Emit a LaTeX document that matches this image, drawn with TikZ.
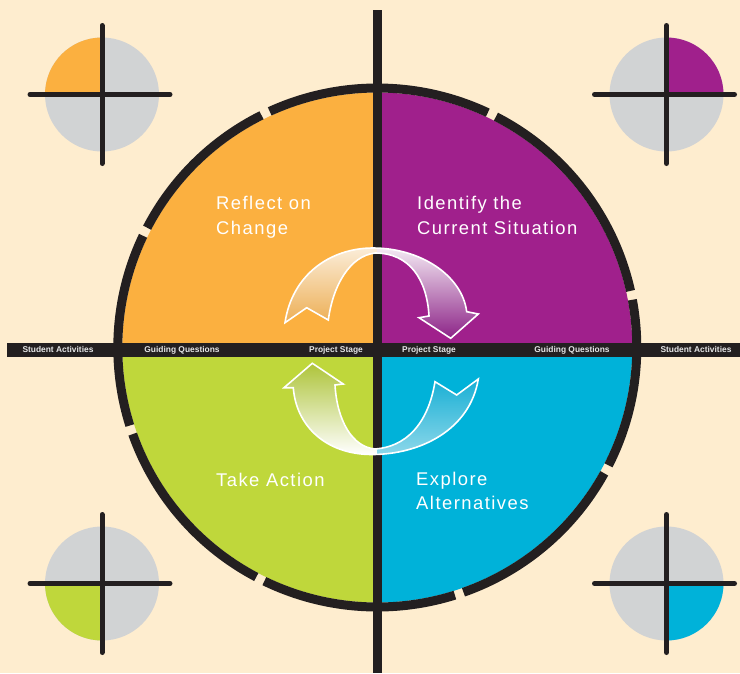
\documentclass[tikz,border=0pt]{standalone}
\usepackage{fontspec}
\newfontfamily\labelfont{Liberation Sans}[LetterSpace=8]
\newfontfamily\bandfont{Liberation Sans}
\definecolor{bgcream}{HTML}{FEEDCF}
\definecolor{ink}{HTML}{231F20}
\definecolor{qOrange}{HTML}{FBB040}
\definecolor{qPurple}{HTML}{A0208C}
\definecolor{qGreen}{HTML}{BFD73B}
\definecolor{qCyan}{HTML}{00B2D9}
\definecolor{iconGrey}{HTML}{D1D3D4}
\definecolor{bandText}{HTML}{E6E7E8}
\definecolor{arrOrange}{HTML}{EAA23A}
\definecolor{arrPurple}{HTML}{8C2387}
\definecolor{arrGreen}{HTML}{AEC43A}
\definecolor{arrCyan}{HTML}{00A7D0}
\begin{document}
\begin{tikzpicture}[x=1pt,y=-1pt,
  crossline/.style={ink,line width=5pt,line cap=round},
  ringseg/.style={ink,line width=9pt},
  stagelabel/.style={text=white,font=\labelfont\fontsize{18.4}{20}\selectfont,anchor=base west,inner sep=0pt},
  bandlabel/.style={text=bandText,font=\bandfont\bfseries\fontsize{8.4}{10}\selectfont,anchor=base,inner sep=0pt},
  arrowrim/.style={draw=white,line width=1.6pt,line join=miter}]

% page
\fill[bgcream] (0,0) rectangle (740,673);
\useasboundingbox (0,0) rectangle (740,673);

% corner icons: grey disc, one coloured quarter, cross
\foreach \cx/\cy/\col/\sa in {102/94.5/qOrange/90, 666.5/94.5/qPurple/0, 102/583.5/qGreen/180, 666.5/583.5/qCyan/270}{
  \fill[iconGrey] (\cx,\cy) circle (57);
  \fill[\col] (\cx,\cy) -- ++(-\sa:57) arc[start angle=-\sa, end angle=-\sa-90, radius=57] -- cycle;
  \draw[crossline] (\cx-72,\cy) -- (\cx+68,\cy);
  \draw[crossline] (\cx,\cy-69) -- (\cx,\cy+69);
}

% main wheel
\coordinate (c) at (377.3,347.5);
\begin{scope}[shift={(c)},yscale=-1]
  \fill[qPurple] (0,0) -- (0:255) arc[start angle=0,end angle=90,radius=255] -- cycle;
  \fill[qOrange] (0,0) -- (90:255) arc[start angle=90,end angle=180,radius=255] -- cycle;
  \fill[qGreen] (0,0) -- (180:255) arc[start angle=180,end angle=270,radius=255] -- cycle;
  \fill[qCyan] (0,0) -- (270:255) arc[start angle=270,end angle=360,radius=255] -- cycle;
  % rim, broken into segments
  \foreach \a/\b in {12.6/62.8, 64.8/114.5, 116.5/152.5, 154.5/197.5, 199.5/242.2, 244.2/287.4, 289.4/331, 333/370.6}
    \draw[ringseg] (\a:259.5) arc[start angle=\a,end angle=\b,radius=259.5];
\end{scope}

% axes
\fill[ink] (373,10) rectangle (381.6,673);
\fill[ink] (7,343) rectangle (740,357);

% band labels
\node[bandlabel] (saL) at (58,352) {Student Activities};
\node[bandlabel] (gqL) at (182,352) {Guiding Questions};
\node[bandlabel] (psL) at (336,352) {Project Stage};
\node[bandlabel] (psR) at (429,352) {Project Stage};
\node[bandlabel] (gqR) at (572,352) {Guiding Questions};
\node[bandlabel] (saR) at (696,352) {Student Activities};

% stage names
\node[stagelabel] (reflectA) at (216,209) {Reflect on};
\node[stagelabel] (reflectB) at (216,234) {Change};
\node[stagelabel] (identA) at (417,209) {Identify the};
\node[stagelabel] (identB) at (417,234) {Current Situation};
\node[stagelabel] (action) at (216,486) {Take Action};
\node[stagelabel] (exploreA) at (416,485) {Explore};
\node[stagelabel] (exploreB) at (416,509) {Alternatives};

% cycle arrows
\def\upperarrow{(285,322.7) .. controls (292,275) and (330,248) .. (373,248)
  .. controls (420,248) and (462,275) .. (466.7,311.7)
  -- (478.3,314) -- (450.7,338.3) -- (419,317.7) -- (429,316)
  .. controls (427,280) and (410,253) .. (375,253)
  .. controls (350,256) and (333,285) .. (328.3,320)
  -- (306.7,307.7) -- cycle}
\def\lowerarrow{(312.3,363.3) -- (343.3,384) -- (335,385)
  .. controls (337,420) and (352,447) .. (375,449)
  .. controls (405,447) and (428,425) .. (435,381.7)
  -- (456.7,395) -- (478.3,379)
  .. controls (470,430) and (420,454.5) .. (372,454.5)
  .. controls (325,454.5) and (296,425) .. (293.3,387.7)
  -- (284,387.7) -- cycle}

\begin{scope}
  \clip (0,0) rectangle (377.3,673);
  \path[top color=white!80!arrOrange, middle color=arrOrange!85!white, bottom color=arrOrange] \upperarrow;
  \path[top color=arrGreen, middle color=arrGreen!70!white, bottom color=white] \lowerarrow;
\end{scope}
\begin{scope}
  \clip (377.3,0) rectangle (740,673);
  \path[top color=white!90!arrPurple, middle color=arrPurple!60!white, bottom color=arrPurple] \upperarrow;
  \path[top color=arrCyan, middle color=arrCyan!90!white, bottom color=white!55!arrCyan] \lowerarrow;
\end{scope}
\path[arrowrim] \upperarrow;
\path[arrowrim] \lowerarrow;
\end{tikzpicture}
\end{document}
